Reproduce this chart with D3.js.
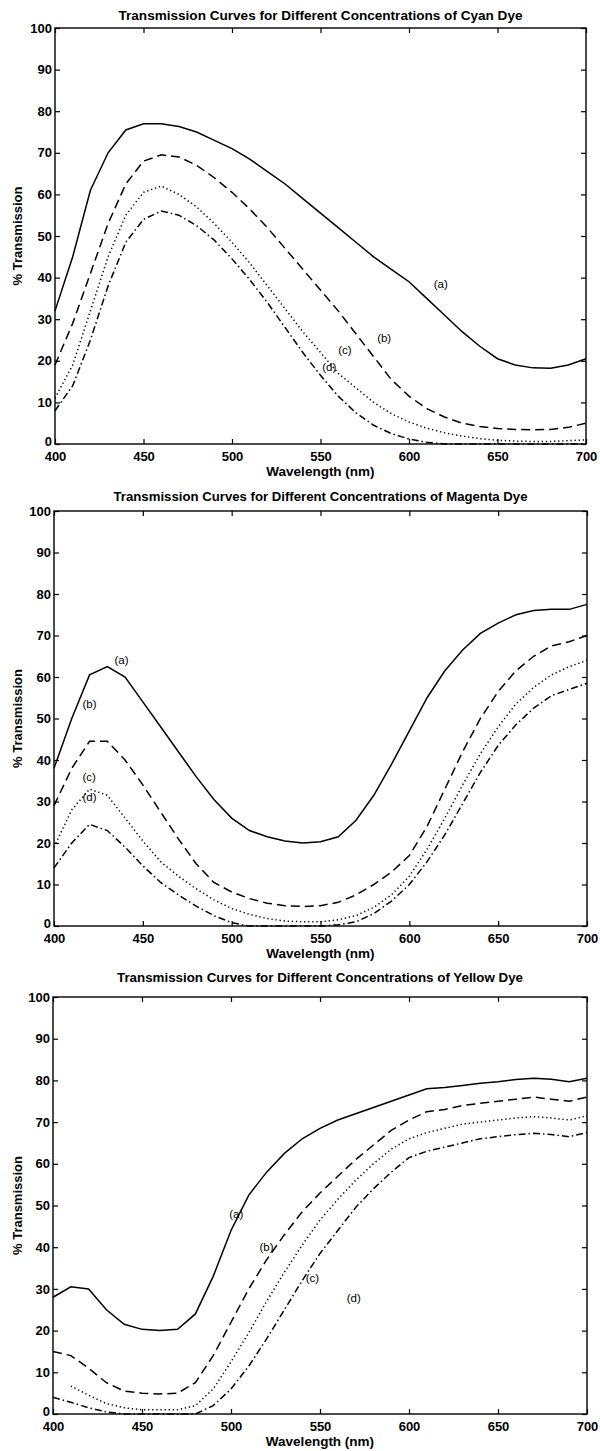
<!DOCTYPE html>
<html>
<head>
<meta charset="utf-8">
<script src="https://cdn.jsdelivr.net/npm/d3@7"></script>
<style>
  html, body { margin: 0; padding: 0; background: #fff; }
  svg { display: block; font-family: "Liberation Sans", Arial, Helvetica, sans-serif; }
</style>
</head>
<body>
<svg id="chart" width="600" height="1451"></svg>
<script>
// Wavelength samples (nm)
const wavelengths = [400, 410, 420, 430, 440, 450, 460, 470, 480, 490, 500, 510, 520, 530, 540, 550,
                     560, 570, 580, 590, 600, 610, 620, 630, 640, 650, 660, 670, 680, 690, 700];

// Cyan dye, % transmission for concentrations (a)-(d)
const cyanA = [32, 45, 61, 70, 75.5, 77, 77, 76.3, 75, 73, 71, 68.5, 65.5, 62.5, 59, 55.5,
               52, 48.5, 45, 42, 39, 35, 31, 27, 23.5, 20.5, 19, 18.3, 18.2, 19, 20.5];
const cyanB = [19, 29, 41, 53, 62.5, 68, 69.5, 69, 67, 64, 60.5, 56.5, 52, 47, 42, 37,
               32, 26.5, 21, 15.5, 11.5, 8.5, 6.5, 5, 4.2, 3.7, 3.5, 3.4, 3.5, 4, 5];
const cyanC = [11, 19, 32, 45, 55, 60.5, 62, 60, 57, 53, 48.5, 43.5, 38, 32.5, 27, 22,
               17, 13.5, 10, 7.3, 5.3, 3.8, 2.7, 1.9, 1.3, 0.9, 0.7, 0.6, 0.6, 0.8, 1];
const cyanD = [8, 14, 25, 38, 48.5, 54, 56, 55, 52.5, 49, 44.5, 39.5, 34, 28, 22, 16.5,
               11.5, 7.5, 4.5, 2.5, 1.2, 0.4, 0, 0, 0, 0, 0, 0, 0, 0, 0];

// Magenta dye
const magentaA = [38, 50, 60.5, 62.5, 60, 54, 48, 42, 36, 30.5, 26, 23, 21.5, 20.5, 20, 20.3,
                  21.5, 25.5, 31.5, 39, 47, 55, 61.5, 66.5, 70.5, 73, 75, 76, 76.3, 76.3, 77.5];
const magentaB = [29, 38, 44.5, 44.5, 40, 34, 27.5, 21, 15, 10.5, 8.2, 6.6, 5.5, 4.9, 4.7, 4.9,
                  5.7, 7.5, 10, 13, 17, 24, 33, 42, 50, 56.5, 61.5, 65, 67.5, 68.5, 70];
const magentaC = [19, 28, 33, 31.5, 26, 20.5, 15.5, 12, 9, 6.3, 4.2, 2.8, 1.8, 1.2, 1, 1,
                  1.5, 2.5, 4.5, 7.5, 12, 18.5, 26, 34, 41.5, 48, 53.5, 57.5, 60.5, 62.5, 64];
const magentaD = [14, 20, 24.5, 23, 19, 14.5, 10.5, 7.5, 4.8, 2.5, 0.8, 0, 0, 0, 0, 0,
                  0.3, 1, 3, 6, 10, 15.5, 22, 29.5, 37, 43.5, 48.5, 52.5, 55.5, 57, 58.5];

// Yellow dye (null = not measured)
const yellowA = [28, 30.5, 30, 25, 21.5, 20.3, 20, 20.3, 24, 33, 44, 52.5, 58, 62.5, 66, 68.5,
                 70.5, 72, 73.5, 75, 76.5, 78, 78.3, 78.8, 79.3, 79.7, 80.2, 80.5, 80.3, 79.7, 80.5];
const yellowB = [15, 14, 11, 7.5, 5.5, 5, 4.8, 5, 7.5, 14, 22, 30, 37, 43, 48.5, 53,
                 57, 61, 64.5, 68, 70.5, 72.5, 73, 74, 74.5, 75, 75.5, 76, 75.5, 75, 76];
const yellowC = [null, 6.7, 4.5, 2.5, 1.5, 1, 1, 1, 2, 6, 12.5, 19.5, 27, 34, 40.5, 46.5,
                 51.5, 56, 60, 63.5, 66, 67.5, 68.5, 69.5, 70, 70.5, 71, 71.3, 71, 70.5, 71.5];
const yellowD = [4, 2.8, 1.5, 0.5, 0, 0, 0, 0, 0, 2, 6, 11.5, 18, 25, 32, 38.5,
                 44, 49.5, 54, 58, 61.5, 63, 64, 65, 66, 66.5, 67, 67.3, 67, 66.5, 67.5];

// Axis ticks
const xTicks = [400, 450, 500, 550, 600, 650, 700];
const yTicks = [0, 10, 20, 30, 40, 50, 60, 70, 80, 90, 100];

// Curve tags and where each one sits, in (wavelength, % transmission)
const curveTags = ["(a)", "(b)", "(c)", "(d)"];
const cyanTagAt = [[614, 38.5], [582, 25.5], [560, 22.5], [551, 18.5]];
const magentaTagAt = [[434, 64], [416, 53.5], [416, 36], [416, 31]];
const yellowTagAt = [[499, 48], [516, 40], [542, 32.6], [565, 27.8]];

const titles = [
  "Transmission Curves for Different Concentrations of Cyan Dye",
  "Transmission Curves for Different Concentrations of Magenta Dye",
  "Transmission Curves for Different Concentrations of Yellow Dye"
];

// Line style per concentration: solid, dashed, dotted, dash-dot
const dashStyles = [null, "9,5", "1.3,2.8", "7,3,1.5,3"];

const panels = [
  { title: titles[0], series: [cyanA, cyanB, cyanC, cyanD], tags: cyanTagAt,
    box: { left: 55, right: 586, top: 28, bottom: 444 }, titleY: 20, titleW: 404 },
  { title: titles[1], series: [magentaA, magentaB, magentaC, magentaD], tags: magentaTagAt,
    box: { left: 54, right: 587, top: 511, bottom: 926 }, titleY: 501, titleW: 414 },
  { title: titles[2], series: [yellowA, yellowB, yellowC, yellowD], tags: yellowTagAt,
    box: { left: 53, right: 587, top: 997, bottom: 1414 }, titleY: 982, titleW: 406 }
];

const svg = d3.select("#chart");

panels.forEach(p => {
  const b = p.box;
  const x = d3.scaleLinear().domain([400, 700]).range([b.left, b.right]);
  const y = d3.scaleLinear().domain([0, 100]).range([b.bottom, b.top]);
  const g = svg.append("g");

  // Title
  g.append("text")
    .attr("x", (b.left + b.right) / 2)
    .attr("y", p.titleY)
    .attr("text-anchor", "middle")
    .attr("font-size", 12)
    .attr("font-weight", "bold")
    .attr("textLength", p.titleW)
    .attr("lengthAdjust", "spacingAndGlyphs")
    .text(p.title);

  // Axes with inward ticks on all four sides
  const tick = 5;
  const bottomAxis = g.append("g").attr("transform", `translate(0,${b.bottom})`)
    .call(d3.axisBottom(x).tickValues(xTicks).tickSizeInner(-tick).tickSizeOuter(0).tickPadding(8));
  const leftAxis = g.append("g").attr("transform", `translate(${b.left},0)`)
    .call(d3.axisLeft(y).tickValues(yTicks).tickSizeInner(-tick).tickSizeOuter(0).tickPadding(3));
  g.append("g").attr("transform", `translate(0,${b.top})`)
    .call(d3.axisTop(x).tickValues(xTicks).tickSizeInner(-tick).tickSizeOuter(0).tickFormat(""));
  g.append("g").attr("transform", `translate(${b.right},0)`)
    .call(d3.axisRight(y).tickValues(yTicks).tickSizeInner(-tick).tickSizeOuter(0).tickFormat(""));

  g.selectAll(".domain").remove();
  g.selectAll(".tick line").attr("stroke", "#000").attr("stroke-width", 1.2);
  [bottomAxis, leftAxis].forEach(a => a.selectAll("text")
    .attr("font-size", 13).attr("font-weight", "bold").attr("fill", "#000")
    .attr("font-family", "'Liberation Sans', Arial, sans-serif"));
  // The zero label sits just above the 400 label at the corner
  leftAxis.selectAll(".tick").filter(d => d === 0).select("text").attr("dy", "0.1em");

  // Frame
  g.append("rect")
    .attr("x", b.left).attr("y", b.top)
    .attr("width", b.right - b.left).attr("height", b.bottom - b.top)
    .attr("fill", "none").attr("stroke", "#000").attr("stroke-width", 1.4);

  // Axis labels
  g.append("text")
    .attr("x", (b.left + b.right) / 2)
    .attr("y", b.bottom + 32)
    .attr("text-anchor", "middle")
    .attr("font-size", 13.5)
    .attr("font-weight", "bold")
    .text("Wavelength (nm)");
  g.append("text")
    .attr("transform", `translate(22,${(b.top + b.bottom) / 2}) rotate(-90)`)
    .attr("text-anchor", "middle")
    .attr("font-size", 13)
    .attr("font-weight", "bold")
    .text("% Transmission");

  // Curves
  const line = d3.line()
    .defined(d => d[1] !== null)
    .x(d => x(d[0]))
    .y(d => y(d[1]));

  p.series.forEach((vals, i) => {
    const pts = wavelengths.map((w, k) => [w, vals[k]]);
    g.append("path")
      .attr("d", line(pts))
      .attr("fill", "none")
      .attr("stroke", "#000")
      .attr("stroke-width", 1.5)
      .attr("stroke-dasharray", dashStyles[i]);
  });

  // Curve tags
  p.tags.forEach((t, i) => {
    g.append("text")
      .attr("x", x(t[0]))
      .attr("y", y(t[1]))
      .attr("dy", "0.35em")
      .attr("font-size", 11.5)
      .text(curveTags[i]);
  });
});
</script>
</body>
</html>
